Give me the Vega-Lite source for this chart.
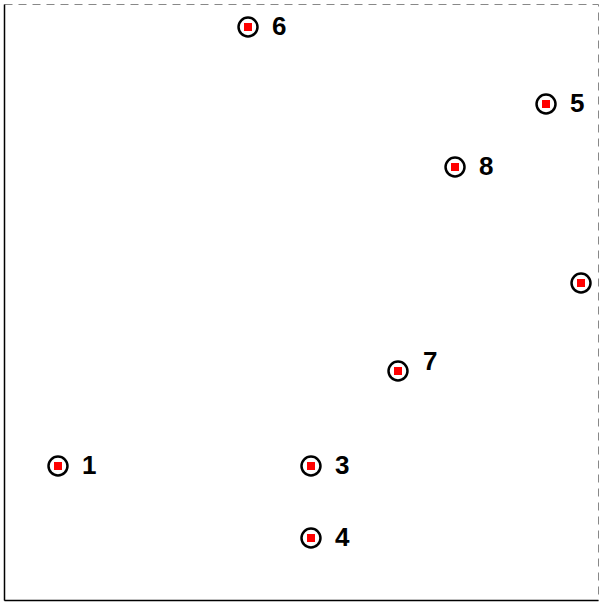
{
  "$schema": "https://vega.github.io/schema/vega-lite/v6.json",
  "width": 594,
  "height": 596,
  "autosize": {"type": "none"},
  "padding": {"left": 4, "top": 4, "right": 4, "bottom": 5},
  "config": {"view": {"stroke": "#888888", "strokeDash": [8, 6], "strokeWidth": 1}},
  "data": {"values": [
    {"id": 1, "x": 9.09, "y": 22.48},
    {"id": 2, "x": 97.14, "y": 53.19},
    {"id": 3, "x": 51.68, "y": 22.48},
    {"id": 4, "x": 51.68, "y": 10.4},
    {"id": 5, "x": 91.25, "y": 83.22},
    {"id": 6, "x": 41.08, "y": 96.14},
    {"id": 7, "x": 66.33, "y": 38.42},
    {"id": 8, "x": 75.93, "y": 72.65}
  ]},
  "encoding": {
    "x": {"field": "x", "type": "quantitative", "scale": {"domain": [0, 100], "nice": false, "zero": false},
      "axis": {"title": null, "labels": false, "ticks": false, "grid": false, "domainColor": "black", "domainWidth": 1.5}},
    "y": {"field": "y", "type": "quantitative", "scale": {"domain": [0, 100], "nice": false, "zero": false},
      "axis": {"title": null, "labels": false, "ticks": false, "grid": false, "domainColor": "black", "domainWidth": 1.5}}
  },
  "layer": [
    {"mark": {"type": "point", "shape": "circle", "size": 360, "stroke": "black", "strokeWidth": 2.5, "fill": "white", "filled": false, "opacity": 1}},
    {"mark": {"type": "square", "size": 64, "color": "red", "opacity": 1}},
    {"transform": [{"filter": "datum.id != 7 && datum.id != 2"}],
     "mark": {"type": "text", "align": "left", "baseline": "middle", "dx": 24, "dy": 0, "fontSize": 26, "fontWeight": "bold", "font": "Liberation Sans", "color": "black", "clip": true},
     "encoding": {"text": {"field": "id", "type": "nominal"}}},
    {"transform": [{"filter": "datum.id == 7"}],
     "mark": {"type": "text", "align": "left", "baseline": "middle", "dx": 25, "dy": -9, "fontSize": 26, "fontWeight": "bold", "font": "Liberation Sans", "color": "black", "clip": true},
     "encoding": {"text": {"field": "id", "type": "nominal"}}}
  ]
}
